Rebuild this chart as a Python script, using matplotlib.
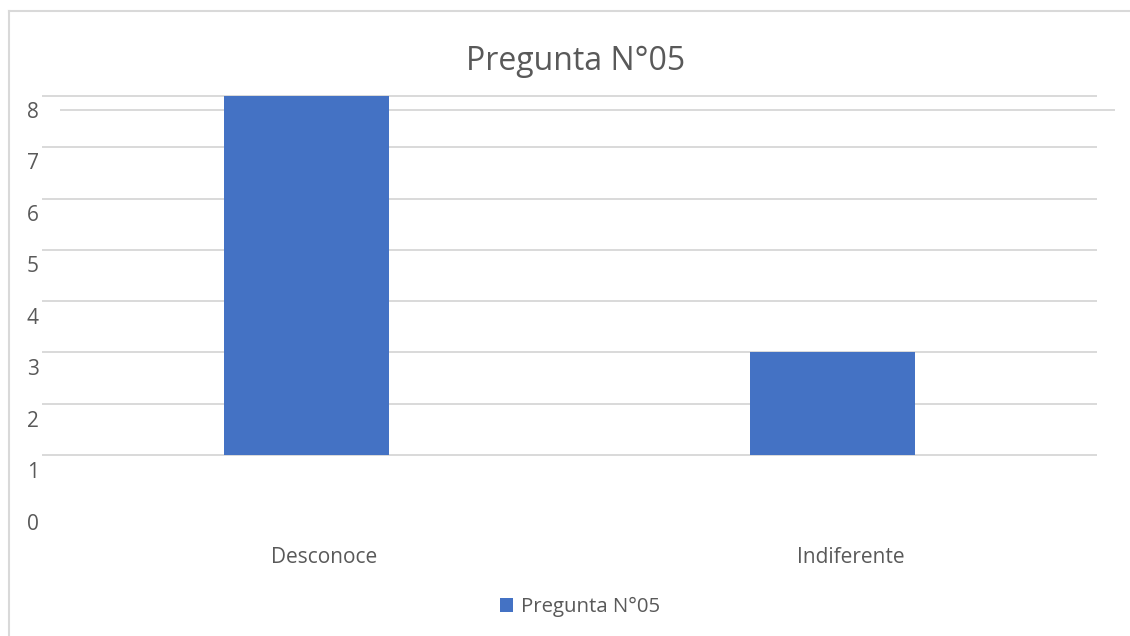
import matplotlib.pyplot as plt
from matplotlib.lines import Line2D

categories = ["Desconoce", "Indiferente"]
values = [8, 3]
ytick_values = [0, 1, 2, 3, 4, 5, 6, 7, 8]
series_name = "Pregunta N°05"
title = "Pregunta N°05"

W, H = 1130, 636
bar_color = "#4472C4"
grid_color = "#D9D9D9"
text_color = "#595959"

plt.rcParams["font.family"] = ["Open Sans", "DejaVu Sans"]

fig = plt.figure(figsize=(W / 100, H / 100), dpi=100)


def px_box(left, top, right, bottom):
    return [left / W, 1 - bottom / H, (right - left) / W, (bottom - top) / H]


# shifted label layer (text drawn offset from plot area), kept underneath
ax2 = fig.add_axes(px_box(61, 110, 1114, 112 + 8 * 51.2))
ax2.set_zorder(1)
ax2.patch.set_visible(False)
ax2.set_xlim(-0.5, len(categories) - 0.5)
ax2.set_ylim(0, 8)
ax2.axhline(8, color=grid_color, linewidth=1.4, clip_on=False)
ax2.set_yticks(ytick_values)
ax2.set_yticklabels([str(v) for v in ytick_values])
x = list(range(len(categories)))
ax2.set_xticks(x)
ax2.set_xticklabels(categories)
ax2.tick_params(axis="y", length=0, pad=16, labelsize=15, labelcolor=text_color)
ax2.tick_params(axis="x", length=0, pad=18, labelsize=15, labelcolor=text_color)
for s in ax2.spines.values():
    s.set_visible(False)

# main layer: bars and gridlines (axis starts at 1, bars clipped there)
ax = fig.add_axes(px_box(43, 96, 1096, 455))
ax.set_zorder(2)
ax.patch.set_visible(False)
bars = ax.bar(x, values, width=0.313, color=bar_color, label=series_name, zorder=2)
ax.set_xlim(-0.5, len(categories) - 0.5)
ax.set_ylim(1, 8)
ax.set_yticks(ytick_values[1:])
ax.yaxis.grid(True, color=grid_color, linewidth=1.4, zorder=0)
for gl in ax.get_ygridlines():
    gl.set_clip_on(False)
ax.set_axisbelow(True)
ax.tick_params(left=False, bottom=False, labelleft=False, labelbottom=False)
for s in ax.spines.values():
    s.set_visible(False)

fig.text(576 / W, 1 - 62 / H, title, ha="center", va="center",
         fontsize=23, color=text_color)

fig.legend(handles=[bars], loc="center", bbox_to_anchor=(580 / W, 1 - 607 / H),
           frameon=False, handlelength=0.65, handleheight=0.65, handletextpad=0.4,
           fontsize=14.7, labelcolor=text_color)

# outer chart border (left and top visible)
fig.add_artist(Line2D([9 / W, 9 / W], [0, 1 - 11 / H], transform=fig.transFigure,
                      color=grid_color, linewidth=1.5))
fig.add_artist(Line2D([9 / W, 1], [1 - 11 / H, 1 - 11 / H], transform=fig.transFigure,
                      color=grid_color, linewidth=1.5))

fig.savefig("out.png", dpi=100)
